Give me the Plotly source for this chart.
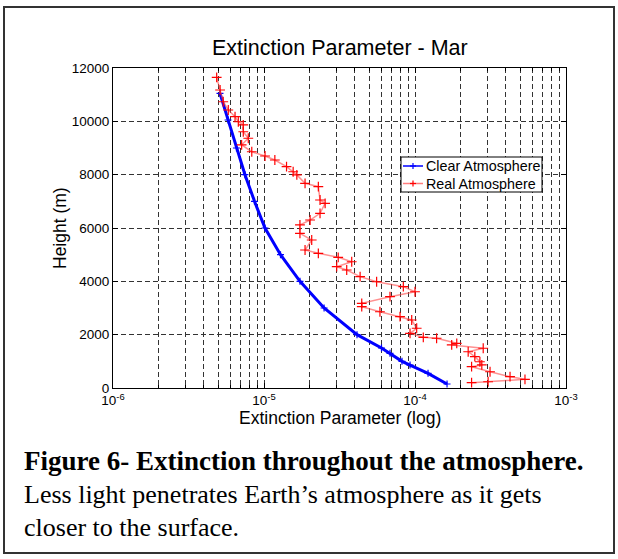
import plotly.graph_objects as go

# ---- data ----
clear_height = [11050, 10050, 9000, 8000, 7000, 6000, 5000, 4000, 3000,
                2000, 1500, 1300, 1000, 860, 550, 150]
clear_ext = [5.11e-6, 5.78e-6, 6.57e-6, 7.48e-6, 8.65e-6, 1.015e-5, 1.286e-5, 1.731e-5,
             2.50e-5, 4.13e-5, 6.00e-5, 6.83e-5, 8.20e-5, 9.27e-5, 1.22e-4, 1.63e-4]

real_height = [11650, 11175, 10735, 10425, 10175, 9985, 9865, 9610, 9365, 9115,
               8860, 8700, 8550, 8300, 8110, 7990, 7675, 7550, 7050, 6925,
               6550, 6300, 6115, 5800, 5550, 5175, 5050, 4900, 4735, 4550,
               4425, 4175, 3985, 3800, 3610, 3425, 3175, 3050, 2860, 2675,
               2550, 2240, 2050, 1900, 1865, 1675, 1615, 1490, 1360, 1175,
               985, 865, 800, 610, 425, 325, 235, 200]
real_ext = [4.86e-6, 5.12e-6, 5.37e-6, 5.80e-6, 6.43e-6, 6.76e-6, 7.29e-6, 7.29e-6, 7.87e-6, 7.11e-6,
            8.30e-6, 1.016e-5, 1.18e-5, 1.41e-5, 1.56e-5, 1.65e-5, 1.87e-5, 2.29e-5, 2.35e-5, 2.54e-5,
            2.35e-5, 2.02e-5, 1.73e-5, 1.73e-5, 2.07e-5, 1.87e-5, 2.29e-5, 3.10e-5, 3.81e-5, 3.03e-5,
            3.53e-5, 4.33e-5, 5.57e-5, 8.37e-5, 1.0e-4, 6.83e-5, 4.44e-5, 4.44e-5, 5.86e-5, 7.96e-5,
            9.51e-5, 1.026e-4, 9.27e-5, 1.135e-4, 1.39e-4, 1.89e-4, 1.75e-4, 2.83e-4, 2.25e-4, 2.49e-4,
            2.69e-4, 2.77e-4, 2.37e-4, 3.14e-4, 4.26e-4, 5.35e-4, 3.05e-4, 2.37e-4]

x_tickvals = [1e-6, 1e-5, 1e-4, 1e-3]
x_ticktext = ["10<sup>-6</sup>", "10<sup>-5</sup>", "10<sup>-4</sup>", "10<sup>-3</sup>"]
y_tickvals = [0, 2000, 4000, 6000, 8000, 10000, 12000]
y_ticktext = ["0", "2000", "4000", "6000", "8000", "10000", "12000"]

series_names = ["Clear Atmosphere", "Real Atmosphere"]
series_colors = ["#0000ff", "#ff0000"]

title_text = "Extinction Parameter - Mar"
x_title = "Extinction Parameter (log)"
y_title = "Height (m)"
caption_bold = "Figure 6- Extinction throughout the atmosphere."
caption_line2 = "Less light penetrates Earth\u2019s atmosphere as it gets"
caption_line3 = "closer to the surface."

# ---- figure geometry (pixels) ----
W, H = 618, 559
L, R, T, B = 113, 566, 68, 388
pw, ph = R - L, B - T


def px(x):
    return (x - L) / pw


def py(y):
    return (B - y) / ph


SANS = "Liberation Sans, Arial, sans-serif"
SERIF = "Liberation Serif, Times New Roman, serif"

fig = go.Figure()
fig.add_trace(go.Scatter(
    x=clear_ext, y=clear_height, mode="lines+markers", name=series_names[0],
    line=dict(color=series_colors[0], width=3),
    marker=dict(symbol="cross-thin", size=5, color=series_colors[0],
                line=dict(width=1.2, color=series_colors[0])),
    showlegend=False,
))
fig.add_trace(go.Scatter(
    x=real_ext, y=real_height, mode="lines+markers", name=series_names[1],
    line=dict(color="rgba(255,70,70,0.6)", width=1.5),
    marker=dict(symbol="cross-thin", size=7, color=series_colors[1],
                line=dict(width=1.2, color=series_colors[1])),
    showlegend=False,
))

grid_dash = "5px,3px"
grid_col = "#333333"
tick_font = dict(family=SANS, size=13.5, color="#000")

fig.update_xaxes(
    type="log", range=[-6, -3], tickvals=x_tickvals, ticktext=x_ticktext,
    ticks="inside", ticklen=5, tickcolor="#000",
    showline=True, linecolor="#000", linewidth=1, mirror="ticks",
    showgrid=True, gridcolor=grid_col, griddash=grid_dash, gridwidth=1,
    minor=dict(dtick="D1", showgrid=True, gridcolor=grid_col, griddash=grid_dash,
               gridwidth=1, ticks="inside", ticklen=3, tickcolor="#000"),
    tickfont=tick_font, zeroline=False,
)
fig.update_yaxes(
    range=[0, 12000], tickvals=y_tickvals, ticktext=y_ticktext,
    ticks="inside", ticklen=5, tickcolor="#000",
    showline=True, linecolor="#000", linewidth=1, mirror="ticks",
    showgrid=True, gridcolor=grid_col, griddash=grid_dash, gridwidth=1,
    tickfont=tick_font, zeroline=False,
)

annotations = [
    dict(text=title_text, x=0.5, y=py(48), xref="paper", yref="paper",
         showarrow=False, xanchor="center", yanchor="middle",
         font=dict(family=SANS, size=21.5, color="#000")),
    dict(text=x_title, x=0.5, y=py(418), xref="paper", yref="paper",
         showarrow=False, xanchor="center", yanchor="middle",
         font=dict(family=SANS, size=17.5, color="#000")),
    dict(text=y_title, x=px(60), y=py(228), xref="paper", yref="paper",
         showarrow=False, xanchor="center", yanchor="middle", textangle=-90,
         font=dict(family=SANS, size=17.5, color="#000")),
    dict(text="<b>" + caption_bold + "</b>", x=px(22), y=py(461), xref="paper", yref="paper",
         showarrow=False, xanchor="left", yanchor="middle",
         font=dict(family=SERIF, size=27, color="#000")),
    dict(text=caption_line2, x=px(22), y=py(494), xref="paper", yref="paper",
         showarrow=False, xanchor="left", yanchor="middle",
         font=dict(family=SERIF, size=26, color="#000")),
    dict(text=caption_line3, x=px(22), y=py(527), xref="paper", yref="paper",
         showarrow=False, xanchor="left", yanchor="middle",
         font=dict(family=SERIF, size=26, color="#000")),
]

shapes = [
    dict(type="rect", xref="paper", yref="paper",
         x0=px(4), x1=px(614), y0=py(553), y1=py(7),
         line=dict(color="#333", width=2), fillcolor="rgba(0,0,0,0)", layer="below"),
    # legend box
    dict(type="rect", xref="paper", yref="paper",
         x0=px(401), x1=px(542), y0=py(192), y1=py(157),
         line=dict(color="#000", width=1), fillcolor="#ffffff", layer="above"),
]

legend_rows = [166, 183.5]
legend_line_cols = ["#0000ff", "rgba(255,70,70,0.7)"]
for name, col, lcol, ry in zip(series_names, series_colors, legend_line_cols, legend_rows):
    shapes.append(dict(type="line", xref="paper", yref="paper",
                       x0=px(403), x1=px(423), y0=py(ry), y1=py(ry),
                       line=dict(color=lcol, width=1.5), layer="above"))
    shapes.append(dict(type="line", xref="paper", yref="paper",
                       x0=px(413), x1=px(413), y0=py(ry - 3), y1=py(ry + 3),
                       line=dict(color=col, width=1.2), layer="above"))
    shapes.append(dict(type="line", xref="paper", yref="paper",
                       x0=px(410), x1=px(416), y0=py(ry), y1=py(ry),
                       line=dict(color=col, width=1.2), layer="above"))
    annotations.append(dict(text=name, x=px(424), y=py(ry), xref="paper", yref="paper",
                            showarrow=False, xanchor="left", yanchor="middle",
                            font=dict(family=SANS, size=14.3, color="#000")))

fig.update_layout(
    width=W, height=H,
    margin=dict(l=L, r=W - R, t=T, b=H - B, pad=0),
    paper_bgcolor="#ffffff", plot_bgcolor="#ffffff",
    showlegend=False,
    annotations=annotations,
    shapes=shapes,
)

fig.write_html("out.html")
